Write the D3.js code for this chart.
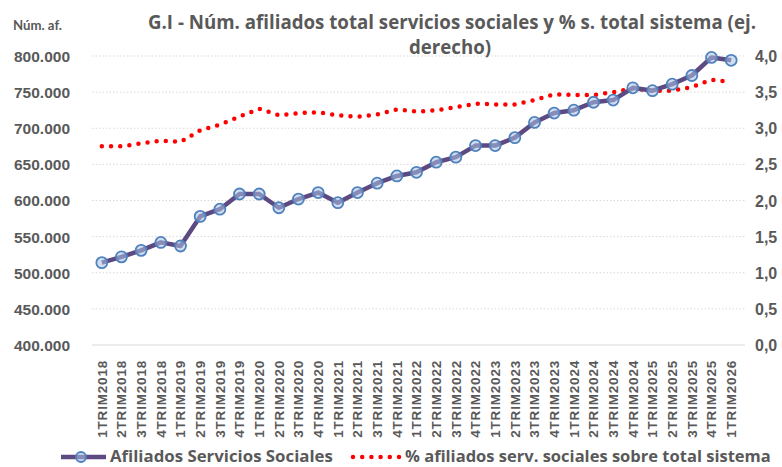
<!DOCTYPE html>
<html>
<head>
<meta charset="utf-8">
<script src="https://cdn.jsdelivr.net/npm/d3@7"></script>
<style>
    body { margin: 0; background: #fff; }
    svg { display: block; font-family: "Open Sans", Lato, sans-serif; }
</style>
</head>
<body>
<div id="chart"></div>
<script>
const categories = [
    '1TRIM2018', '2TRIM2018', '3TRIM2018', '4TRIM2018',
    '1TRIM2019', '2TRIM2019', '3TRIM2019', '4TRIM2019',
    '1TRIM2020', '2TRIM2020', '3TRIM2020', '4TRIM2020',
    '1TRIM2021', '2TRIM2021', '3TRIM2021', '4TRIM2021',
    '1TRIM2022', '2TRIM2022', '3TRIM2022', '4TRIM2022',
    '1TRIM2023', '2TRIM2023', '3TRIM2023', '4TRIM2023',
    '1TRIM2024', '2TRIM2024', '3TRIM2024', '4TRIM2024',
    '1TRIM2025', '2TRIM2025', '3TRIM2025', '4TRIM2025',
    '1TRIM2026',
];

const afiliados = [
    514000, 522000, 531000, 542000,
    537000, 578000, 588000, 609000,
    609000, 590000, 602000, 611000,
    597000, 611000, 624000, 634000,
    639000, 653000, 660000, 676000,
    676000, 687000, 708000, 721000,
    725000, 736000, 739000, 756000,
    752000, 761000, 773000, 798000,
    794000,
];

const porcentaje = [
    2.75, 2.75, 2.79, 2.83,
    2.81, 2.97, 3.05, 3.16,
    3.27, 3.18, 3.21, 3.22,
    3.18, 3.16, 3.19, 3.26,
    3.23, 3.25, 3.29, 3.34,
    3.33, 3.33, 3.39, 3.47,
    3.46, 3.46, 3.50, 3.55,
    3.52, 3.52, 3.57, 3.67,
    3.64,
];

const leftTicks = [400000, 450000, 500000, 550000, 600000, 650000, 700000, 750000, 800000];
const rightTicks = [0, 0.5, 1, 1.5, 2, 2.5, 3, 3.5, 4];

const W = 782, H = 467;
const margin = { top: 56, right: 41, bottom: 122, left: 92 };
const width = W - margin.left - margin.right;
const height = H - margin.top - margin.bottom;
const textColor = '#595959';

// scale a text's font size so that it spans the given width
function fitWidth(sel, target) {
    const node = sel.node();
    const size = parseFloat(sel.style('font-size'));
    const len = node.getComputedTextLength();
    sel.style('font-size', `${(size * target / len).toFixed(2)}px`);
}

const svg = d3.select('#chart').append('svg')
    .attr('width', W)
    .attr('height', H);

const main = svg.append('g')
    .attr('transform', `translate(${[margin.left, margin.top]})`);

// scales
const xScale = d3.scaleBand()
    .domain(categories)
    .range([0, width]);
const yLeft = d3.scaleLinear()
    .domain([400000, 800000])
    .range([height, 0]);
const yRight = d3.scaleLinear()
    .domain([0, 4])
    .range([height, 0]);
const cx = d => xScale(d) + xScale.bandwidth() / 2;

// gridlines
main.append('g')
    .selectAll('line')
    .data(leftTicks.slice(1))
    .join('line')
    .attr('x1', 0)
    .attr('x2', width + 4)
    .attr('y1', d => yLeft(d))
    .attr('y2', d => yLeft(d))
    .attr('stroke', '#d9d9d9')
    .attr('stroke-width', 1)
    .attr('stroke-dasharray', '1.5 2');

// left axis
const fmtLeft = d => d3.format(',')(d).replace(/,/g, '.');
const leftAxis = main.append('g')
    .attr('transform', 'translate(-19,0)')
    .call(d3.axisLeft(yLeft).tickValues(leftTicks).tickSize(0).tickFormat(fmtLeft));
leftAxis.select('.domain').remove();
leftAxis.selectAll('text')
    .attr('fill', textColor)
    .style('font-size', '15.5px')
    .style('font-weight', 'bold')
    .attr('dy', '0.35em');

// right axis
const rightAxis = main.append('g')
    .attr('transform', `translate(${width + 11},0)`)
    .call(d3.axisRight(yRight).tickValues(rightTicks).tickSize(0)
        .tickFormat(d => d3.format('.1f')(d).replace('.', ',')));
rightAxis.select('.domain').remove();
rightAxis.selectAll('text')
    .attr('fill', textColor)
    .style('font-size', '16px')
    .style('font-weight', 'bold')
    .attr('dy', '0.35em');

// bottom axis
const xAxis = main.append('g')
    .attr('transform', `translate(0,${height})`)
    .call(d3.axisBottom(xScale).tickSize(0));
xAxis.select('.domain')
    .attr('stroke', '#d9d9d9')
    .attr('d', `M0,0H${width + 4}`);
xAxis.selectAll('text')
    .attr('fill', textColor)
    .style('font-size', '13.5px')
    .style('font-weight', 'bold')
    .style('letter-spacing', '0.8px')
    .style('text-anchor', 'end')
    .attr('transform', 'rotate(-90)')
    .attr('x', -15)
    .attr('y', 0)
    .attr('dy', '0.35em');

// % line (right axis)
const lineRight = d3.line()
    .x((d, i) => cx(categories[i]))
    .y(d => yRight(d));
main.append('path')
    .datum(porcentaje)
    .attr('fill', 'none')
    .attr('stroke', '#ff0000')
    .attr('stroke-width', 4.5)
    .attr('stroke-linecap', 'round')
    .attr('stroke-dasharray', '0 9.2')
    .attr('d', lineRight);

// afiliados line (left axis)
const lineLeft = d3.line()
    .x((d, i) => cx(categories[i]))
    .y(d => yLeft(d));
main.append('path')
    .datum(afiliados)
    .attr('fill', 'none')
    .attr('stroke', '#5e4a82')
    .attr('stroke-width', 4.5)
    .attr('stroke-linejoin', 'round')
    .attr('d', lineLeft);

main.append('g')
    .selectAll('circle')
    .data(afiliados)
    .join('circle')
    .attr('cx', (d, i) => cx(categories[i]))
    .attr('cy', d => yLeft(d))
    .attr('r', 5.5)
    .attr('fill', 'rgba(170,195,230,0.55)')
    .attr('stroke', '#4f81bd')
    .attr('stroke-width', 1.8);

// titles
const yTitle = svg.append('text')
    .attr('x', 13)
    .attr('y', 30)
    .attr('fill', textColor)
    .style('font-family', 'Lato, sans-serif')
    .style('font-size', '15px')
    .style('font-weight', 'bold')
    .text('Núm. af.');
fitWidth(yTitle, 49);

const title1 = svg.append('text')
    .attr('x', 452)
    .attr('y', 29)
    .attr('fill', textColor)
    .style('font-size', '18px')
    .style('font-weight', 'bold')
    .attr('text-anchor', 'middle')
    .text('G.I - Núm. afiliados total servicios sociales y % s. total sistema (ej.');
fitWidth(title1, 608);
const title2 = svg.append('text')
    .attr('x', 450)
    .attr('y', 54)
    .attr('fill', textColor)
    .style('font-size', title1.style('font-size'))
    .style('font-weight', 'bold')
    .attr('text-anchor', 'middle')
    .text('derecho)');

// legend
const legend = svg.append('g');
legend.append('line')
    .attr('x1', 61).attr('x2', 106)
    .attr('y1', 457).attr('y2', 457)
    .attr('stroke', '#5e4a82')
    .attr('stroke-width', 4.5);
legend.append('circle')
    .attr('cx', 81).attr('cy', 457)
    .attr('r', 5)
    .attr('fill', 'rgba(170,195,230,0.55)')
    .attr('stroke', '#4f81bd')
    .attr('stroke-width', 1.8);
const leg1 = legend.append('text')
    .attr('x', 110).attr('y', 462)
    .attr('fill', textColor)
    .style('font-size', '15px')
    .style('font-weight', 'bold')
    .text('Afiliados Servicios Sociales');
fitWidth(leg1, 223);
legend.append('line')
    .attr('x1', 353).attr('x2', 399)
    .attr('y1', 457).attr('y2', 457)
    .attr('stroke', '#ff0000')
    .attr('stroke-width', 4.5)
    .attr('stroke-linecap', 'round')
    .attr('stroke-dasharray', '0 9.2');
const leg2 = legend.append('text')
    .attr('x', 405).attr('y', 462)
    .attr('fill', textColor)
    .style('font-size', '15px')
    .style('font-weight', 'bold')
    .text('% afiliados serv. sociales sobre total sistema');
fitWidth(leg2, 366);
</script>
</body>
</html>
